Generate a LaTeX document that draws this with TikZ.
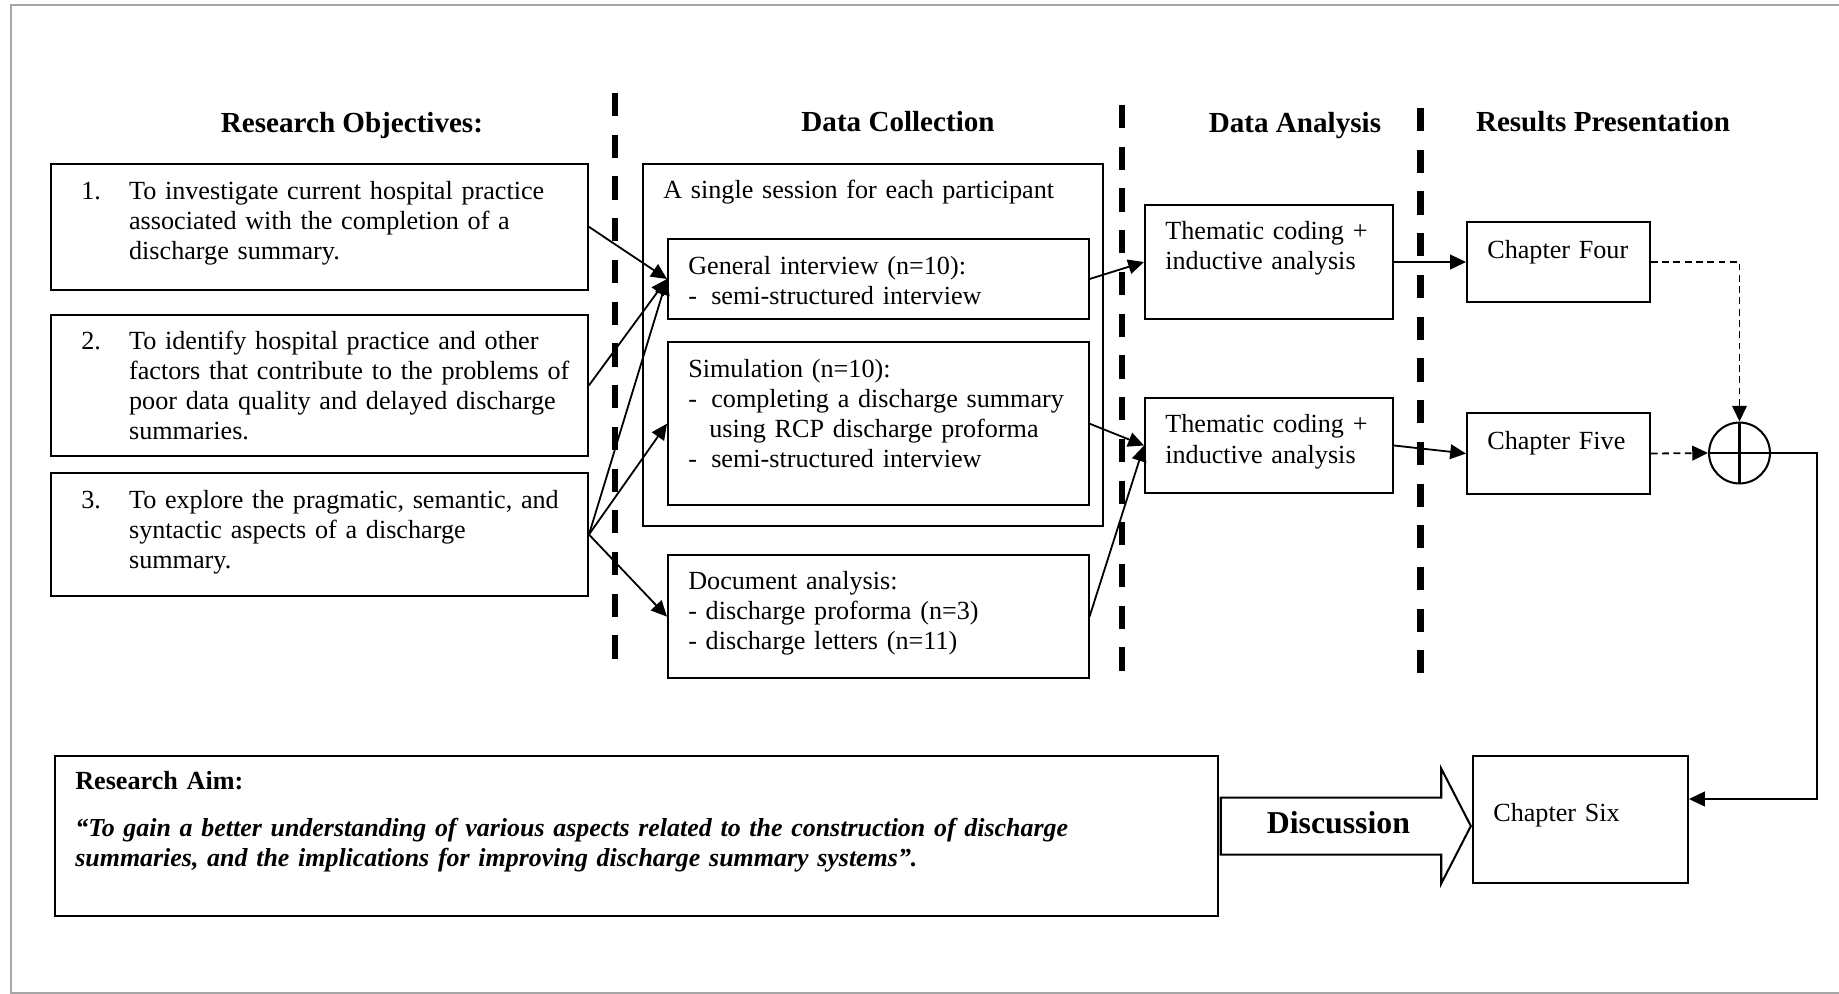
\documentclass[tikz,border=0pt]{standalone}
\usepackage{fontspec}
\setmainfont{Liberation Serif}
\usetikzlibrary{positioning,arrows.meta,shapes.arrows}
\newcommand{\bodyfont}{\fontsize{11.6}{13.35}\selectfont}
\newcommand{\headfont}{\fontsize{12.9}{15}\selectfont\bfseries}
\newcommand{\objnum}[1]{\leftskip=31.45pt\llap{\makebox[21.15pt][l]{#1}}}
\newcommand{\dashitem}{\makebox[10.2pt][l]{-}}
\tikzstyle{tbox}=[rectangle, draw=black, line width=0.9pt, anchor=north west,
 inner xsep=3pt, inner ysep=0pt, align=left, font=\bodyfont,
 text height=15.5pt, execute at begin node={\leftskip=6pt\relax}]
\tikzstyle{head}=[anchor=base, inner sep=0pt, font=\headfont]
\tikzstyle{pline}=[-{Triangle[length=7pt,width=6.5pt]}, line width=0.8pt]
\tikzstyle{dline}=[pline, dash pattern=on 3pt off 2pt]
\tikzstyle{divider}=[line width=2.7pt, dash pattern=on 10.3pt off 8.2pt]
\tikzstyle{discarrow}=[single arrow, draw=black, line width=0.9pt, fill=white,
 single arrow head extend=12.85pt, single arrow tip angle=125.5,
 single arrow head indent=0pt, minimum height=110.9pt, inner sep=0pt,
 text height=15.5pt, text depth=8.9pt, font=\fontsize{14.1}{16}\selectfont\bfseries]
\begin{document}
\begin{tikzpicture}[x=0.4434pt, y=-0.4434pt]
\useasboundingbox (0,0) rectangle (1839,994);
\draw[gray!70, line width=0.7pt] (1850,5) -- (11,5) -- (11,993) -- (1850,993);

\node (HOBJ) [head] at (352,132) {Research Objectives:};
\node (HCOL) [head] at (898,131) {Data Collection};
\node (HANA) [head] at (1295,132) {Data Analysis};
\node (HRES) [head] at (1603,131) {Results Presentation};

\draw[divider] (615,93) -- (615,663);
\draw[divider] (1122,105) -- (1122,673);
\draw[divider] (1420.5,108) -- (1420.5,673);

\node (OBJ1) [tbox, text width=231.9pt, text height=15.65pt, text depth=40.35pt] at (50.4,162.7)
 {\objnum{1.}To investigate current hospital practice\\associated with the completion of a\\discharge summary.\par};
\node (OBJ2) [tbox, text width=231.9pt, text depth=47.27pt, below=10pt of OBJ1]
 {\objnum{2.}To identify hospital practice and other\\factors that contribute to the problems of\\poor data quality and delayed discharge\\summaries.\par};
\node (OBJ3) [tbox, text width=231.9pt, text depth=38.89pt, below=6.65pt of OBJ2]
 {\objnum{3.}To explore the pragmatic, semantic, and\\syntactic aspects of a discharge\\summary.\par};

\node (SESS) [tbox, text width=198pt, text height=15.43pt, text depth=145pt] at (642,163)
 {A single session for each participant};
\node (GEN) [tbox, text width=180.45pt, text height=15.83pt, text depth=19.64pt] at (667,238)
 {General interview (n=10):\\\dashitem semi-structured interview};
\node (SIM) [tbox, text width=180.45pt, text height=15.79pt, text depth=56.62pt, below=9.3pt of GEN]
 {Simulation (n=10):\\\dashitem completing a discharge summary\\\hspace*{9.3pt}using RCP discharge proforma\\\dashitem semi-structured interview};
\node (DOC) [tbox, text width=180.45pt, text height=15.08pt, text depth=39.46pt, below=21.2pt of SIM]
 {Document analysis:\\- discharge proforma (n=3)\\- discharge letters (n=11)};

 \draw[pline] (OBJ1.east) -- (GEN.west);
 \draw[pline] (OBJ2.east) -- (GEN.west);
 \draw[pline] (OBJ3.east) -- (GEN.west);
 \draw[pline] (OBJ3.east) -- (SIM.west);
 \draw[pline] (OBJ3.east) -- (DOC.west);

\node (THEME1) [tbox, text width=104pt, text height=15.08pt, text depth=35.47pt] at (1144,204)
 {Thematic coding +\\inductive analysis};
\node (THEME2) [tbox, text width=104pt, text depth=26.6pt] at (1144,397)
 {Thematic coding +\\inductive analysis};

 \draw[pline] (GEN.east) -- (THEME1.west);
 \draw[pline] (SIM.east) -- (THEME2.west);
 \draw[pline] (DOC.east) -- (THEME2.west);

\node (CH4) [tbox, text width=75.1pt, text height=15.96pt, text depth=19.51pt] at (1466,221) {Chapter Four};
\node (CH5) [tbox, text width=75.1pt, text height=15.96pt, text depth=19.95pt] at (1466,412) {Chapter Five};

 \draw[pline] (THEME1.east) -- (CH4.west);
 \draw[pline] (THEME2.east) -- (CH5.west);

\node (SUM) [circle, draw=black, line width=0.9pt, minimum size=27pt, inner sep=0pt] at (1739.5,453) {};
 \draw[line width=0.9pt] (SUM.north) -- (SUM.south) (SUM.west) -- (SUM.east);
 \draw[dline] (CH4.east) -| (SUM.north);
 \draw[dline] (CH5.east) -- (SUM.west);

\node (AIM) [tbox, text width=509.7pt, text height=14.63pt, text depth=56.31pt] at (54,755)
 {\textbf{Research Aim:}\\[7.5pt]{\fontsize{11.5}{13.35}\selectfont\bfseries\itshape “To gain a better understanding of various aspects related to the construction of discharge\\summaries, and the implications for improving discharge summary systems”.}};
\node (CH6) [tbox, text width=89.3pt, text height=28.82pt, text depth=27.49pt] at (1472,755) {Chapter Six};
\node (DISC) [discarrow, anchor=tip] at ([yshift=-2.9pt]CH6.west) {Discussion};

\coordinate (FB) at (1817,799);
 \draw[pline] (SUM.east) -| (FB) -- (FB -| CH6.east);

\end{tikzpicture}
\end{document}
